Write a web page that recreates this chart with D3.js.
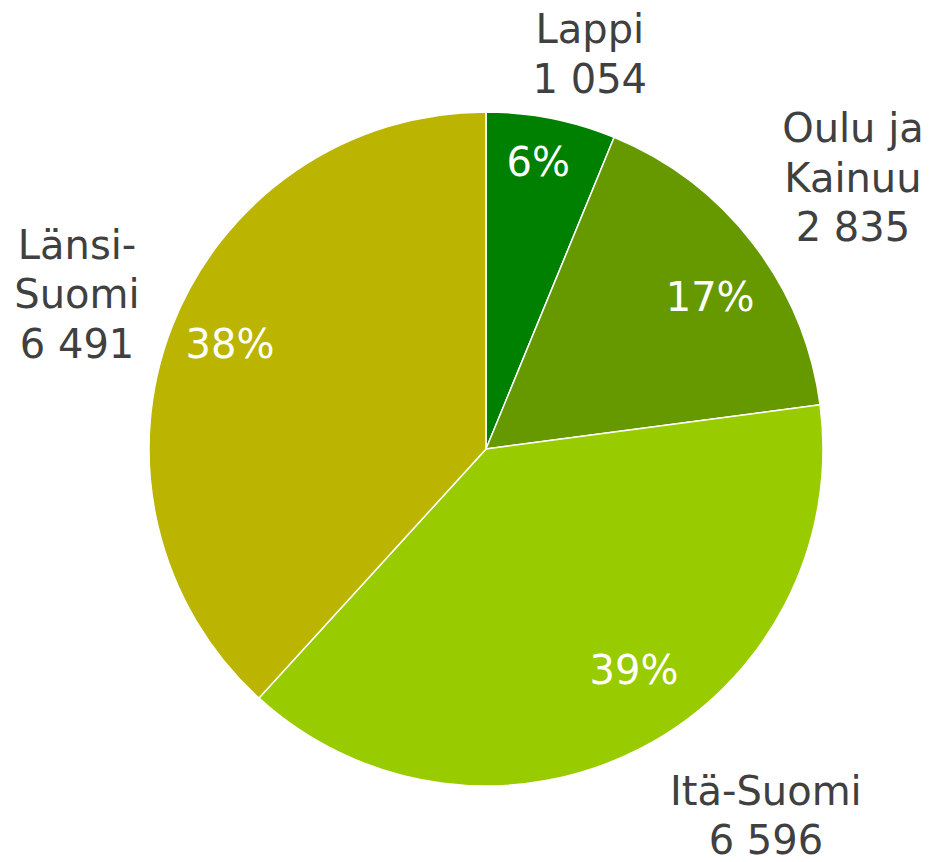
<!DOCTYPE html>
<html>
<head>
<meta charset="utf-8">
<script src="https://cdn.jsdelivr.net/npm/d3@7"></script>
<style>
  body { margin: 0; background: #fff; }
  text { font-family: "DejaVu Sans", Verdana, sans-serif; }
</style>
</head>
<body>
<div id="chart"></div>
<script>
// Data
const regions = ["Lappi", "Oulu ja Kainuu", "Itä-Suomi", "Länsi-Suomi"];
const labelLines = [["Lappi"], ["Oulu ja", "Kainuu"], ["Itä-Suomi"], ["Länsi-", "Suomi"]];
const counts = [1054, 2835, 6596, 6491];
const colors = ["#008000", "#669900", "#99cc00", "#bbb400"];

const width = 933, height = 862;
const cx = 486, cy = 449, radius = 337;

// label placement (angle in degrees clockwise from top, distance from centre)
const outerPolar = [[14.7, 409], [53.5, 456.5], [142.6, 460.8], [290.8, 437.5]];
const pctPolar = [[10.3, 292], [55.8, 271], [146.2, 266], [292.3, 276.7]];
const lineH = 49.5;

const fi = d3.formatLocale({decimal: ",", thousands: "\u00a0", grouping: [3], currency: ["", "€"]});
const fmt = fi.format(",d");

const total = d3.sum(counts);
const data = regions.map((r, i) => ({region: r, lines: labelLines[i], value: counts[i], color: colors[i], i}));

const svg = d3.select("#chart")
              .append("svg")
              .attr("width", width)
              .attr("height", height);

const g = svg.append("g").attr("transform", `translate(${cx},${cy})`);

const pie = d3.pie().sort(null).value(d => d.value);
const arc = d3.arc().innerRadius(0).outerRadius(radius);

const arcs = pie(data);

g.selectAll("path")
 .data(arcs)
 .enter()
 .append("path")
 .attr("d", arc)
 .attr("fill", d => d.data.color)
 .attr("stroke", "#fff")
 .attr("stroke-width", 1.5);

function polar(p) {
  const a = p[0] * Math.PI / 180;
  return [p[1] * Math.sin(a), -p[1] * Math.cos(a)];
}

// percentage labels
g.selectAll("text.pct")
 .data(arcs)
 .enter()
 .append("text")
 .attr("class", "pct")
 .attr("transform", d => {
   const p = polar(pctPolar[d.data.i]);
   return `translate(${p[0]},${p[1]})`;
 })
 .attr("text-anchor", "middle")
 .attr("dy", "0.36em")
 .attr("fill", "#fff")
 .style("font-size", "40px")
 .text(d => Math.round(d.data.value / total * 100) + "%");

// category labels outside
const outer = g.selectAll("text.lbl")
 .data(arcs)
 .enter()
 .append("text")
 .attr("class", "lbl")
 .attr("text-anchor", "middle")
 .attr("fill", "#404040")
 .style("font-size", "40px")
 .attr("transform", d => {
   const p = polar(outerPolar[d.data.i]);
   return `translate(${p[0]},${p[1]})`;
 });

outer.each(function(d) {
  const lines = d.data.lines.concat([fmt(d.data.value)]);
  const n = lines.length;
  d3.select(this).selectAll("tspan")
    .data(lines)
    .enter()
    .append("tspan")
    .attr("x", 0)
    .attr("y", (l, k) => (k - (n - 1) / 2) * lineH)
    .attr("dy", "0.36em")
    .text(l => l);
});
</script>
</body>
</html>
